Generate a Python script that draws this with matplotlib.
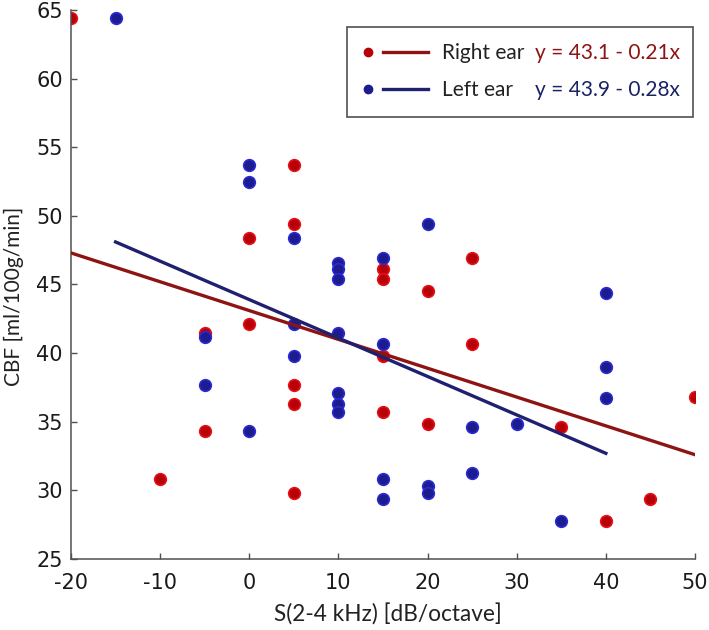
import numpy as np
import matplotlib
matplotlib.use('Agg')
import matplotlib.pyplot as plt
from matplotlib.patches import Rectangle
from matplotlib.lines import Line2D

plt.rcParams['axes.unicode_minus'] = False

# right ear (red) and left ear (blue) measurements
right_x = [-20, -10, -5, -5, 0, 0, 5, 5, 5, 5, 5, 15, 15, 15, 15,
           20, 20, 25, 25, 35, 40, 45, 50]
right_y = [64.4, 30.8, 41.5, 34.3, 48.4, 42.1, 53.7, 49.4, 37.7, 36.3, 29.8,
           46.1, 45.4, 39.8, 35.7, 44.5, 34.8, 46.9, 40.7, 34.6, 27.8, 29.4, 36.8]

left_x = [-15, -5, -5, 0, 0, 0, 5, 5, 5, 10, 10, 10, 10, 10, 10, 10,
          15, 15, 15, 15, 20, 20, 20, 25, 25, 30, 35, 40, 40, 40]
left_y = [64.4, 41.2, 37.7, 53.7, 52.5, 34.3, 48.4, 42.1, 39.8,
          46.6, 46.1, 45.4, 41.5, 37.1, 36.3, 35.7,
          46.9, 40.7, 30.8, 29.4, 49.4, 30.3, 29.8, 34.6, 31.3,
          34.8, 27.8, 44.4, 39.0, 36.7]

# regression coefficients from the figure (intercept, slope)
right_fit = (43.1, -0.21)
left_fit = (43.9, -0.28)

xticks = [-20, -10, 0, 10, 20, 30, 40, 50]
yticks = [25, 30, 35, 40, 45, 50, 55, 60, 65]

red_dot, red_edge, red_line = '#b80008', '#e41018', '#8e1414'
blue_dot, blue_edge, blue_line = '#1c1c8e', '#2a2ad4', '#1f2070'

W, H = 709, 630
fig = plt.figure(figsize=(W / 100, H / 100), dpi=100)
ax = fig.add_axes([71 / W, 1 - 559 / H, (695 - 71) / W, (559 - 10) / H])

ax.scatter(right_x, right_y, s=70, c=red_dot, edgecolors=red_edge, linewidths=1.2, zorder=2)
ax.scatter(left_x, left_y, s=70, c=blue_dot, edgecolors=blue_edge, linewidths=1.2, zorder=3)

rx = np.array([min(right_x), max(right_x)])
lx = np.array([min(left_x), max(left_x)])
ax.plot(rx, right_fit[0] + right_fit[1] * rx, color=red_line, lw=2.4, zorder=4)
ax.plot(lx, left_fit[0] + left_fit[1] * lx, color=blue_line, lw=2.4, zorder=5)

ax.set_xlim(-20, 50)
ax.set_ylim(25, 65)
ax.set_xticks(xticks)
ax.set_yticks(yticks)
ax.spines['top'].set_visible(False)
ax.spines['right'].set_visible(False)
for s in ('left', 'bottom'):
    ax.spines[s].set_color('#505050')
    ax.spines[s].set_linewidth(1.1)
tickfont = ['Liberation Sans Narrow', 'DejaVu Sans']
ax.tick_params(direction='in', length=4, width=1, color='#505050')
ax.tick_params(axis='x', pad=10)
ax.tick_params(axis='y', pad=6)
for lab in ax.get_xticklabels() + ax.get_yticklabels():
    lab.set_family(tickfont)
    lab.set_fontsize(15)
    lab.set_color('#1a1a1a')

labfont = ['Lato', 'DejaVu Sans']
fig.text(388 / W, 1 - 622 / H, 'S(2-4 kHz) [dB/octave]', ha='center', va='baseline',
         family=labfont, fontsize=16.3, color='#222222')
fig.text(14 / W, 1 - 296 / H, 'CBF [ml/100g/min]', ha='center', va='center',
         rotation=90, family=labfont, fontsize=15, color='#222222')

# legend box drawn by hand
box = Rectangle((347 / W, 1 - 117 / H), (693 - 347) / W, 90 / H, transform=fig.transFigure,
                facecolor='white', edgecolor='#505050', lw=1.2, zorder=10)
fig.patches.append(box)
rows = [(59, 'Right ear', f'y = {right_fit[0]} - {abs(right_fit[1])}x', red_dot, red_line, red_line),
        (96, 'Left ear', f'y = {left_fit[0]} - {abs(left_fit[1])}x', blue_dot, blue_line, '#1a2266')]
for base, name, eq, dc, lc, tc in rows:
    yc = 1 - (base - 7) / H
    fig.add_artist(Line2D([368 / W], [yc], marker='o', ms=6, color=dc, mec=dc,
                          transform=fig.transFigure, zorder=11))
    fig.add_artist(Line2D([383 / W, 428 / W], [yc, yc], color=lc, lw=2.4,
                          transform=fig.transFigure, zorder=11))
    fig.text(442 / W, 1 - base / H, name, ha='left', va='baseline', family=labfont,
             fontsize=15, color='#222222', zorder=12)
    fig.text(535 / W, 1 - base / H, eq, ha='left', va='baseline', family=labfont,
             fontsize=15, color=tc, zorder=12)

fig.savefig('out.png', dpi=100)
